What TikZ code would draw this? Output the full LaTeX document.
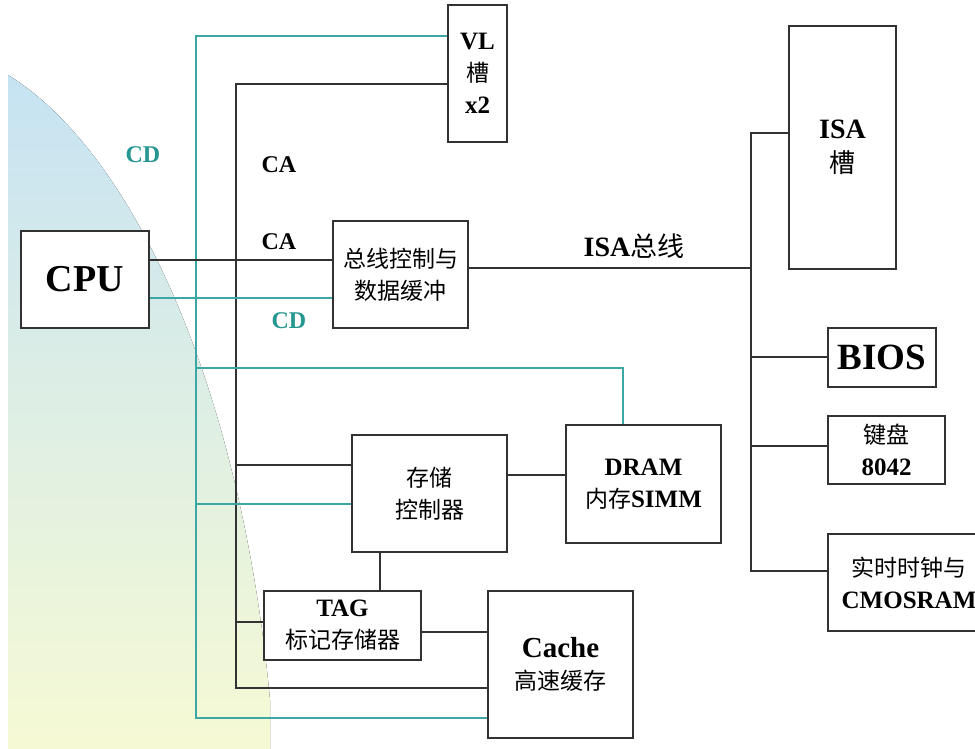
\documentclass[tikz,border=0pt]{standalone}
\usepackage{fontspec}
\setmainfont{Liberation Serif}
\newfontfamily\cjk{Noto Sans CJK SC}
\definecolor{linec}{RGB}{50,50,50}
\definecolor{cdc}{RGB}{62,166,164}
\definecolor{cdtext}{RGB}{38,150,145}
\definecolor{bgtop}{RGB}{198,227,243}
\definecolor{bgmid}{RGB}{222,240,226}
\definecolor{bgbot}{RGB}{246,250,212}
\newcommand{\zh}[1]{{\cjk\mdseries\fontsize{23}{32}\selectfont #1}}
\tikzset{
  unit/.style={draw=linec, line width=1.5pt, fill=white, inner sep=0pt,
    align=center, font=\fontsize{25}{32}\selectfont\bfseries},
  bus/.style={draw=linec, line width=1.3pt},
  dbus/.style={draw=cdc, line width=1.3pt},
  buslbl/.style={font=\fontsize{24}{28}\selectfont\bfseries}
}

\begin{document}
\begin{tikzpicture}[x=1pt, y=-1pt]
  \useasboundingbox (0,0) rectangle (975,749);
  \fill[top color=bgtop, middle color=bgmid, bottom color=bgbot]
    (8,75) .. controls (130,150) and (240,380) .. (270,700)
    -- (270,749) -- (8,749) -- cycle;

  \node[unit, minimum width=59pt, minimum height=137pt] (vl) at (477.5,73.5)
    {VL\\\zh{槽}\\x2};
  \node[unit, minimum width=128pt, minimum height=97pt,
    font=\fontsize{38}{40}\selectfont\bfseries] (cpu) at (85,279.5) {CPU};
  \node[unit, minimum width=135pt, minimum height=107pt] (bc) at (400.5,274.5)
    {\zh{总线控制与}\\\zh{数据缓冲}};
  \node[unit, minimum width=107pt, minimum height=243pt,
    font=\fontsize{28}{34}\selectfont\bfseries] (isa) at (842.5,147.5)
    {ISA\\\zh{\fontsize{26}{34}\selectfont 槽}};
  \node[unit, minimum width=108pt, minimum height=59pt,
    font=\fontsize{37}{40}\selectfont\bfseries] (bios) at (882,357.5) {BIOS};
  \node[unit, minimum width=117pt, minimum height=68pt] (kb) at (886.5,450)
    {\zh{键盘}\\8042};
  \node[unit, minimum width=162pt, minimum height=97pt] (rtc) at (909,582.5)
    {\zh{实时时钟与}\\CMOSRAM};
  \node[unit, minimum width=155pt, minimum height=117pt] (mc) at (429.5,493.5)
    {\zh{存储}\\\zh{控制器}};
  \node[unit, minimum width=155pt, minimum height=118pt] (dram) at (643.5,484)
    {DRAM\\\zh{内存}SIMM};
  \node[unit, minimum width=157pt, minimum height=69pt] (tag) at (342.5,625.5)
    {TAG\\\zh{标记存储器}};
  \node[unit, minimum width=145pt, minimum height=147pt] (cache) at (560.5,664.5)
    {{\fontsize{29}{32}\selectfont Cache}\\\zh{高速缓存}};

  \coordinate (caT) at (236,84);
  \coordinate (caB) at (236,688);
  \coordinate (cdT) at (196,36);
  \coordinate (cdB) at (196,718);
  \coordinate (isaT) at (751,133);
  \coordinate (isaB) at (751,571);
  \coordinate (cpuA) at (0,260);
  \coordinate (cpuD) at (0,298);
  \coordinate (drm) at (623,368);

  \draw[dbus] (vl.west |- cdT) -- (cdT) -- (cdB) -- (cache.west |- cdB);
  \draw[bus] (vl.west |- caT) -- (caT) -- (caB) -- (cache.west |- caB);
  \draw[bus] (cpu.east |- cpuA) -- (bc.west |- cpuA);
  \draw[dbus] (cpu.east |- cpuD) -- (bc.west |- cpuD);
  \draw[dbus] (cdT |- drm) -- (drm) -- (dram.north -| drm);
  \draw[dbus] (cdT |- 0,504) -- (mc.west |- 0,504);
  \draw[bus] (caT |- 0,465) -- (mc.west |- 0,465);
  \draw[bus] (mc.east |- 0,475) -- (dram.west |- 0,475);
  \draw[bus] (mc.south -| 380,0) -- (tag.north -| 380,0);
  \draw[bus] (caT |- 0,622) -- (tag.west |- 0,622);
  \draw[bus] (tag.east |- 0,632) -- (cache.west |- 0,632);

  \draw[bus] (bc.east |- 0,268) -- (isaT |- 0,268);
  \draw[bus] (isa.west |- isaT) -- (isaT) -- (isaB) -- (rtc.west |- isaB);
  \draw[bus] (isaT |- 0,357) -- (bios.west |- 0,357);
  \draw[bus] (isaT |- 0,446) -- (kb.west |- 0,446);

  \node[buslbl, text=cdtext] (cd1) at (143,155) {CD};
  \node[buslbl] (ca1) at (279,165) {CA};
  \node[buslbl] (ca2) at (279,242) {CA};
  \node[buslbl, text=cdtext] (cd2) at (289,321) {CD};
  \node[font=\fontsize{28}{32}\selectfont\bfseries] (isabus) at (634,246)
    {ISA\zh{\fontsize{27}{32}\selectfont 总线}};
\end{tikzpicture}
\end{document}
